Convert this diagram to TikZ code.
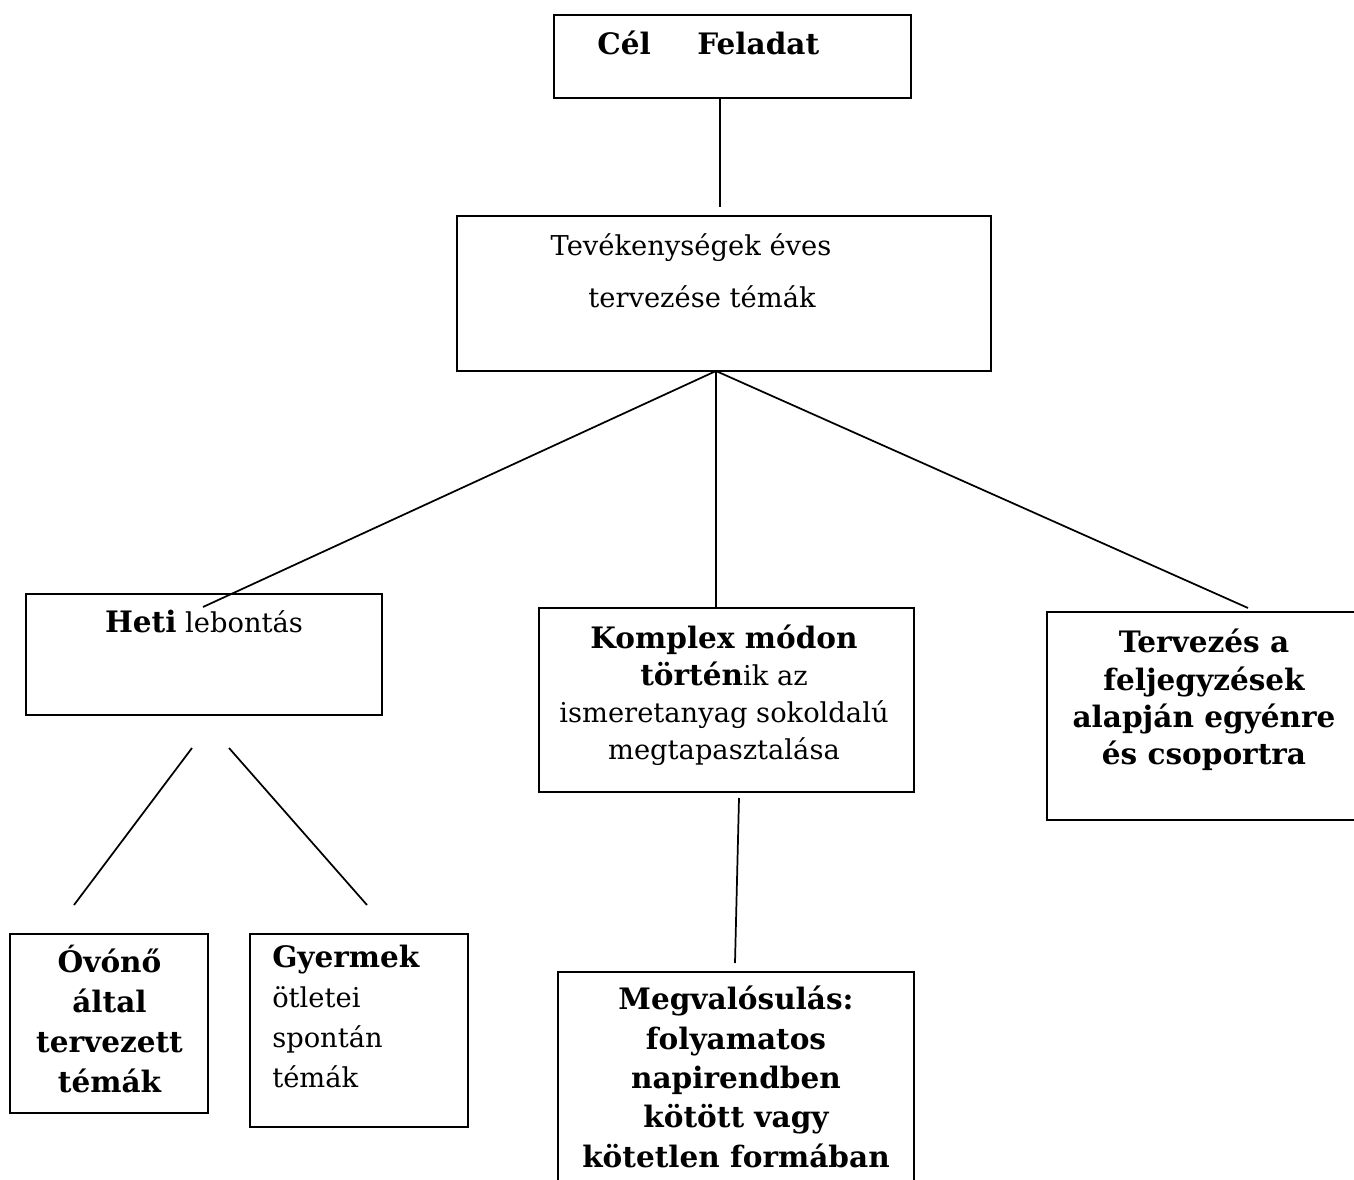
\documentclass[tikz,border=0pt]{standalone}
\usepackage{fontspec}
\setmainfont{DejaVu Serif}[BoldFeatures={Scale=1.08}]
\newcommand\pxu{0.75pt}
\tikzset{
  box/.style 2 args={draw, line width=1.8pt, inner sep=0pt,
    minimum width=#1*\pxu, minimum height=#2*\pxu},
  txt/.style={inner sep=0pt, align=center, anchor=north,
    font=\fontsize{20.5}{#1}\selectfont, execute at begin node=\strut},
  txt/.default=30,
  link/.style={line width=1.3pt},
}
\begin{document}
\begin{tikzpicture}[x=0.75pt,y=-0.75pt]
  \clip (0,0) rectangle (1354,1180);
  \fill[white] (0,0) rectangle (1354,1180);
  % boxes
  \node[box={357}{83}]  (goal)    at (732.5,56.5) {};
  \node[box={534}{155}] (plan)    at (724,293.5)  {};
  \node[box={356}{121}] (weekly)  at (204,654.5)  {};
  \node[box={375}{184}] (complex) at (726.5,700)  {};
  \node[box={323}{208}] (notes)   at (1208.5,716) {};
  \node[box={198}{179}] (teacher) at (109,1023.5) {};
  \node[box={218}{193}] (child)   at (359,1030.5) {};
  \node[box={356}{228}] (real)    at (736,1086)   {};
  % texts
  \node[txt, anchor=base west] (goalA) at (597,55) {\textbf{Cél}};
  \node[txt, anchor=base west] (goalB) at (697,55) {\textbf{Feladat}};
  \node[txt, anchor=base] (planA) at (691,256) {Tevékenységek éves};
  \node[txt, anchor=base] (planB) at (702,308) {tervezése témák};
  \node[txt, anchor=base] (weeklyT) at (204,633) {\textbf{Heti} lebontás};
  \node[txt=27.75] (complexT) at (724,625) {\textbf{Komplex módon}\\
    \textbf{történ}ik az\\ ismeretanyag sokoldalú\\ megtapasztalása};
  \node[txt=28, font=\fontsize{20.5}{28}\selectfont\bfseries] (notesT) at (1204,629)
    {Tervezés a\\ feljegyzések\\ alapján egyénre\\ és csoportra};
  \node[txt, font=\fontsize{20.5}{30}\selectfont\bfseries] (teacherT) at (109.5,945)
    {Óvónő\\ által\\ tervezett\\ témák};
  \node[txt, align=left, anchor=north west] (childT) at (272,945)
    {\textbf{Gyermek}\\ ötletei\\ spontán\\ témák};
  \node[txt, font=\fontsize{20.5}{29.5}\selectfont\bfseries] (realT) at (736,986)
    {Megvalósulás:\\ folyamatos\\ napirendben\\ kötött vagy\\ kötetlen formában};
  % connectors
  \coordinate (g2)  at (720,207);
  \coordinate (hub) at (716,371);
  \coordinate (w1)  at (203,607);
  \coordinate (n1)  at (1248,608);
  \coordinate (w2)  at (192,748);
  \coordinate (w3)  at (74,905);
  \coordinate (w4)  at (229,748);
  \coordinate (w5)  at (367,905);
  \coordinate (c1)  at (739,798);
  \coordinate (c2)  at (735,963);
  \draw[link] (goal.south -| g2) -- (g2);
  \draw[link] (hub) -- (w1);
  \draw[link] (hub) -- (hub |- complex.north);
  \draw[link] (hub) -- (n1);
  \draw[link] (w2) -- (w3);
  \draw[link] (w4) -- (w5);
  \draw[link] (c1) -- (c2);
\end{tikzpicture}
\end{document}
